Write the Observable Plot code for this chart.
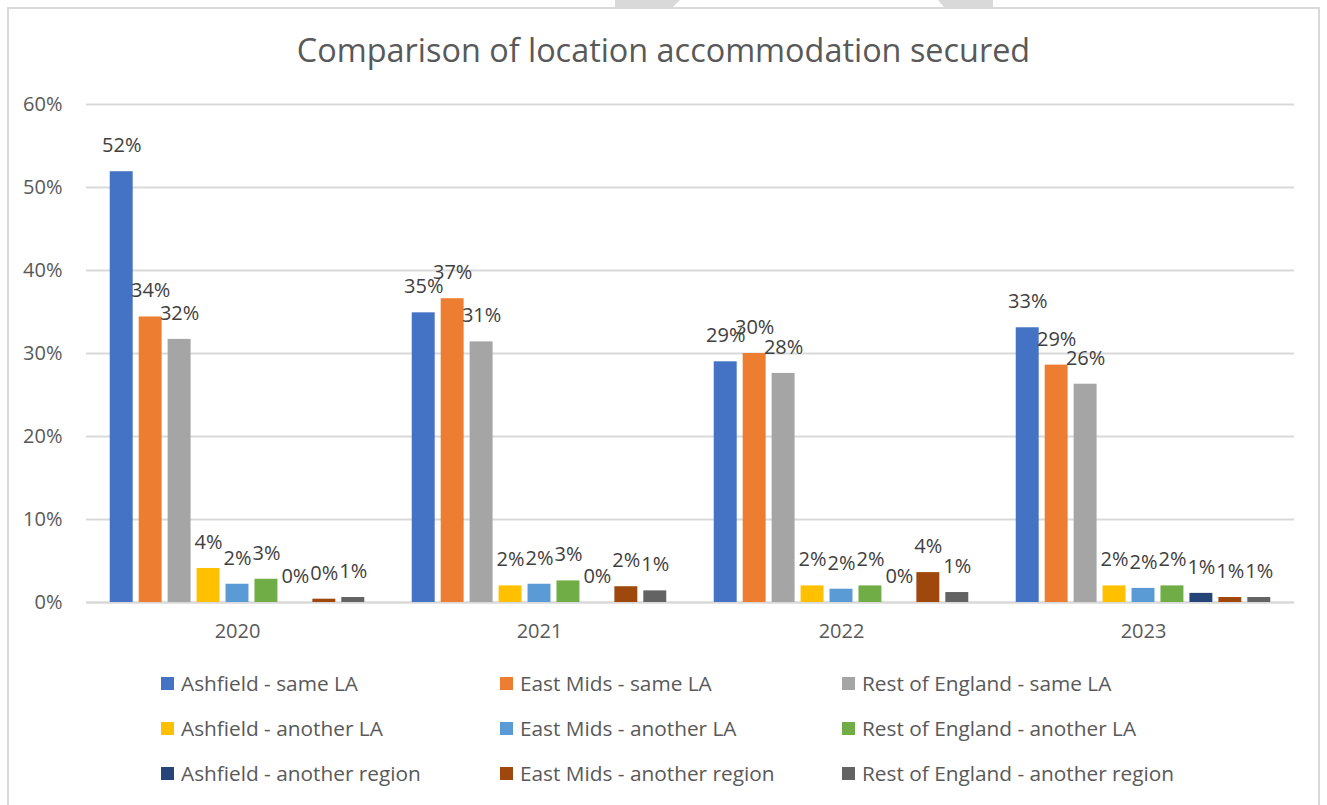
<!DOCTYPE html>
<html>
<head>
<meta charset="utf-8">
<script src="https://cdn.jsdelivr.net/npm/d3@7"></script>
<script src="https://cdn.jsdelivr.net/npm/@observablehq/plot@0.6"></script>
<style>
  html, body { margin: 0; padding: 0; background: #fff; }
  body { width: 1327px; height: 805px; overflow: hidden; position: relative; font-family: "Open Sans", sans-serif; }
  #frame { position: absolute; left: 7px; top: 7px; width: 1313px; height: 820px; border: 2px solid #d9d9d9; box-sizing: border-box; }
  #deco { position: absolute; left: 0; top: 0; }
  #title { position: absolute; left: 0; width: 1327px; top: 27px; text-align: center; font-size: 32.4px; color: #595959; line-height: 44px; white-space: nowrap; }
  #chart { position: absolute; left: 0; top: 90px; }
  #legend { position: absolute; left: 0; top: 668px; width: 1327px; }
  .item { position: absolute; display: flex; align-items: center; font-size: 20.8px; color: #595959; white-space: nowrap; height: 30px; }
  .sw { width: 13px; height: 13px; margin-right: 7px; flex: none; }
</style>
</head>
<body>
<svg id="deco" width="1327" height="8">
  <polygon points="615,0 680,0 673,7 615,7" fill="#d9d9d9"></polygon>
  <polygon points="938,0 993,0 993,7 944,7" fill="#d9d9d9"></polygon>
</svg>
<div id="frame"></div>
<div id="title">Comparison of location accommodation secured</div>
<div id="chart"></div>
<div id="legend"></div>
<script>
const years = ["2020", "2021", "2022", "2023"];
const seriesNames = [
  "Ashfield - same LA", "East Mids - same LA", "Rest of England - same LA",
  "Ashfield - another LA", "East Mids - another LA", "Rest of England - another LA",
  "Ashfield - another region", "East Mids - another region", "Rest of England - another region"
];
const seriesColors = ["#4472C4", "#ED7D31", "#A5A5A5", "#FFC000", "#5B9BD5", "#70AD47", "#264478", "#9E480E", "#636363"];

// values in percent, per year 2020..2023
const ashfieldSameLA      = [51.9, 34.9, 29.0, 33.1];
const eastMidsSameLA      = [34.4, 36.6, 30.0, 28.6];
const restSameLA          = [31.7, 31.4, 27.6, 26.3];
const ashfieldAnotherLA   = [4.1, 2.0, 2.0, 2.0];
const eastMidsAnotherLA   = [2.2, 2.2, 1.6, 1.7];
const restAnotherLA       = [2.8, 2.6, 2.0, 2.0];
const ashfieldAnotherReg  = [0.0, 0.0, 0.0, 1.1];
const eastMidsAnotherReg  = [0.4, 1.9, 3.6, 0.6];
const restAnotherReg      = [0.6, 1.4, 1.2, 0.6];

const yTicks = [0, 10, 20, 30, 40, 50, 60];

const seriesValues = [ashfieldSameLA, eastMidsSameLA, restSameLA, ashfieldAnotherLA, eastMidsAnotherLA, restAnotherLA, ashfieldAnotherReg, eastMidsAnotherReg, restAnotherReg];

const data = [];
years.forEach((yr, j) => {
  seriesNames.forEach((s, i) => {
    data.push({year: yr, series: s, value: seriesValues[i][j]});
  });
});

const chart = Plot.plot({
  width: 1327,
  height: 562,
  marginLeft: 85,
  marginRight: 32,
  marginTop: 14,
  marginBottom: 50,
  style: {fontFamily: "Open Sans", fontSize: "20px", color: "#595959", background: "transparent", overflow: "visible"},
  fx: {domain: years, padding: 0, label: null},
  x: {domain: seriesNames, paddingInner: 0.207, paddingOuter: 0.82, round: false, axis: null},
  y: {domain: [0, 60], label: null},
  color: {domain: seriesNames, range: seriesColors},
  marks: [
    Plot.ruleY(yTicks.filter(d => d > 0), {stroke: "#d9d9d9", strokeWidth: 2}),
    Plot.ruleY([0], {stroke: "#d9d9d9", strokeWidth: 2.5}),
    Plot.barY(data, {fx: "year", x: "series", y: "value", fill: "series"}),
    Plot.text(data, {fx: "year", x: "series", y: "value", text: d => Math.round(d.value) + "%", dy: -26, fontSize: 20, fill: "#404040"}),
    Plot.axisY(yTicks, {tickSize: 0, tickPadding: 24, tickFormat: d => d + "%", fontSize: 20, fill: "#595959", label: null}),
    Plot.axisFx({anchor: "bottom", tickSize: 0, tickPadding: 21, fontSize: 20, fill: "#595959", label: null})
  ]
});
document.getElementById("chart").appendChild(chart);

// legend
const legend = document.getElementById("legend");
const colX = [161, 500, 842];
const rowY = [0, 45, 90];
seriesNames.forEach((s, i) => {
  const item = document.createElement("div");
  item.className = "item";
  item.style.left = colX[i % 3] + "px";
  item.style.top = rowY[Math.floor(i / 3)] + "px";
  const sw = document.createElement("span");
  sw.className = "sw";
  sw.style.background = seriesColors[i];
  const label = document.createElement("span");
  label.textContent = s;
  item.appendChild(sw);
  item.appendChild(label);
  legend.appendChild(item);
});
</script>
</body>
</html>
